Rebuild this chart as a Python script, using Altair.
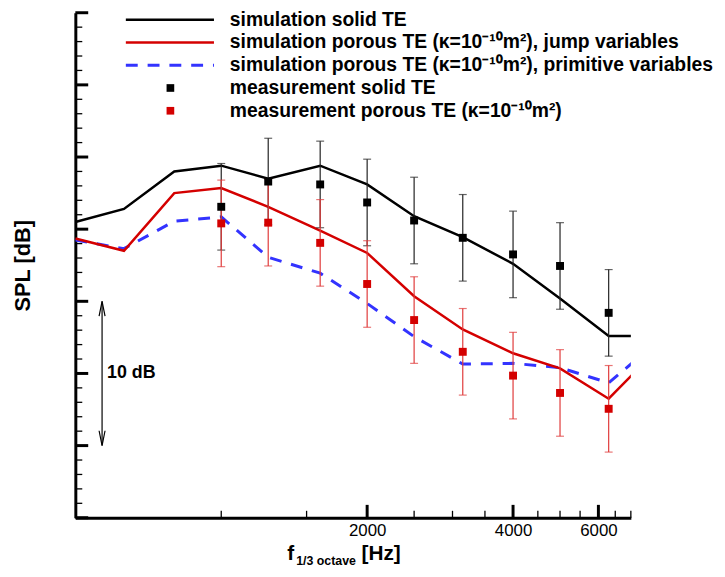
import altair as alt
import pandas as pd

# ---------------- data ----------------
freq_sim = [500, 630, 800, 1000, 1250, 1600, 2000, 2500, 3150, 4000, 5000, 6300, 8000]
sim_solid = [20.5, 21.4, 24.0, 24.4, 23.5, 24.4, 23.1, 20.9, 19.45, 17.6, 15.2, 12.6, 12.6]
sim_jump = [19.35, 18.5, 22.5, 22.85, 21.55, 19.9, 18.35, 15.35, 13.05, 11.4, 10.35, 8.25, 11.8]
sim_prim = [19.25, 18.65, 20.55, 20.85, 18.05, 16.95, 14.85, 12.55, 10.65, 10.7, 10.4, 9.35, 12.3]

freq_meas = [1000, 1250, 1600, 2000, 2500, 3150, 4000, 5000, 6300]
meas_solid = [21.55, 23.3, 23.1, 21.85, 20.6, 19.4, 18.25, 17.45, 14.2]
meas_porous = [20.4, 20.45, 19.05, 16.2, 13.7, 11.5, 9.85, 8.65, 7.55]
meas_err = [3.0] * 9

x_major = [2000, 4000, 6000]
x_minor = [1000, 1500, 2500, 3000, 3500, 4500, 5000, 5500, 6500, 7000]
y_major = [0, 5, 10, 15, 20, 25, 30, 35]
y_minor = [v for v in range(0, 36) if v % 5 != 0]

legend_labels = [
    "simulation solid TE",
    "simulation porous TE (\u03ba=10\u207b\u00b9\u2070m\u00b2), jump variables",
    "simulation porous TE (\u03ba=10\u207b\u00b9\u2070m\u00b2), primitive variables",
    "measurement solid TE",
    "measurement porous TE (\u03ba=10\u207b\u00b9\u2070m\u00b2)",
]

arrow_lo, arrow_hi = [5], [15]

# ---------------- styling ----------------
W, H = 561, 510
FONT = "Liberation Sans"
BLACK, RED, BLUE = "#000000", "#d40000", "#3333ff"
RED_BAR = "#e03a3a"

xs = alt.Scale(type="log", domain=[500, 7000], nice=False)
ys = alt.Scale(domain=[0, 35], nice=False, zero=False)

x_axis = alt.Axis(values=x_major, format="d", labelFont=FONT, labelFontSize=17,
                  labelColor="black", ticks=False, tickSize=0, labelPadding=5,
                  domainWidth=3, domainColor="black", grid=False, title=None,
                  labelFlush=False)
y_axis = alt.Axis(labels=False, ticks=False, tickSize=0, domainWidth=3,
                  domainColor="black", grid=False, title="SPL [dB]",
                  titleFont=FONT, titleFontSize=22, titleFontWeight="bold",
                  titleColor="black", titlePadding=41)

X = alt.X("f:Q", scale=xs, axis=x_axis)
Y = alt.Y("spl:Q", scale=ys, axis=y_axis)


def line_layer(vals, color, width, dash=None):
    df = pd.DataFrame({"f": freq_sim, "spl": vals})
    kw = dict(color=color, strokeWidth=width, clip=True)
    if dash:
        kw["strokeDash"] = dash
    return alt.Chart(df).mark_line(**kw).encode(x=X, y=Y)


def meas_layers(vals, color, bar_color):
    df = pd.DataFrame({"f": freq_meas, "spl": vals,
                       "lo": [v - e for v, e in zip(vals, meas_err)],
                       "hi": [v + e for v, e in zip(vals, meas_err)]})
    base = alt.Chart(df)
    bars = base.mark_rule(color=bar_color, strokeWidth=1.2).encode(
        x=X, y=alt.Y("lo:Q", scale=ys, axis=y_axis), y2="hi:Q")
    cap_lo = base.mark_tick(orient="horizontal", size=8, thickness=1.2, color=bar_color).encode(
        x=X, y=alt.Y("lo:Q", scale=ys, axis=y_axis))
    cap_hi = base.mark_tick(orient="horizontal", size=8, thickness=1.2, color=bar_color).encode(
        x=X, y=alt.Y("hi:Q", scale=ys, axis=y_axis))
    pts = base.mark_square(size=64, color=color, opacity=1).encode(x=X, y=Y)
    return [bars, cap_lo, cap_hi], pts


layers = []

# inward axis ticks
xmaj = pd.DataFrame({"f": x_major})
xmin = pd.DataFrame({"f": x_minor})
ymaj = pd.DataFrame({"spl": y_major})
ymin = pd.DataFrame({"spl": y_minor})
layers.append(alt.Chart(xmaj).mark_rule(color="black", strokeWidth=3).encode(
    x=X, y=alt.value(H), y2=alt.value(H - 13)))
layers.append(alt.Chart(xmin).mark_rule(color="black", strokeWidth=1.3).encode(
    x=X, y=alt.value(H), y2=alt.value(H - 7)))
layers.append(alt.Chart(ymaj).mark_rule(color="black", strokeWidth=3).encode(
    y=Y, x=alt.value(0), x2=alt.value(13)))
layers.append(alt.Chart(ymin).mark_rule(color="black", strokeWidth=1.3).encode(
    y=Y, x=alt.value(0), x2=alt.value(7)))

# simulation lines
layers.append(line_layer(sim_prim, BLUE, 3, [12, 10]))
layers.append(line_layer(sim_solid, BLACK, 2.5))
layers.append(line_layer(sim_jump, RED, 2.5))

# measurements
bars_s, pts_s = meas_layers(meas_solid, BLACK, "#222222")
bars_p, pts_p = meas_layers(meas_porous, RED, RED_BAR)
layers += bars_s + bars_p + [pts_s, pts_p]

# 10 dB scale arrow
arr = pd.DataFrame({"spl": arrow_lo, "spl2": arrow_hi})
layers.append(alt.Chart(arr).mark_rule(color="black", strokeWidth=1.2).encode(
    x=alt.value(27), y=Y, y2="spl2:Q"))
layers.append(alt.Chart(pd.DataFrame({"spl": arrow_hi})).mark_point(
    shape="M-0.4,2L0,0L0.4,2", size=225, filled=False, stroke="black", strokeWidth=1.2, opacity=1
).encode(x=alt.value(27), y=Y))
layers.append(alt.Chart(pd.DataFrame({"spl": arrow_lo})).mark_point(
    shape="M-0.4,-2L0,0L0.4,-2", size=225, filled=False, stroke="black", strokeWidth=1.2, opacity=1
).encode(x=alt.value(27), y=Y))
layers.append(alt.Chart(pd.DataFrame({"spl": [10]})).mark_text(
    text="10 dB", align="left", baseline="middle", font=FONT, fontSize=18,
    fontWeight="bold", color="black").encode(x=alt.value(32), y=Y))

# legend (hand drawn inside the plot area, as in the reference)
one = pd.DataFrame({"k": [0]})
row_y = [7, 30, 53, 76, 99]
sym = [("line", BLACK, None), ("line", RED, None), ("line", BLUE, [12, 10]),
       ("sq", BLACK, None), ("sq", RED, None)]
for (kind, col, dash), ry, lab in zip(sym, row_y, legend_labels):
    if kind == "line":
        kw = dict(color=col, strokeWidth=3 if dash else 2.5)
        if dash:
            kw["strokeDash"] = dash
        layers.append(alt.Chart(one).mark_rule(**kw).encode(
            x=alt.value(51), x2=alt.value(140), y=alt.value(ry)))
    else:
        layers.append(alt.Chart(one).mark_square(size=60, color=col, opacity=1).encode(
            x=alt.value(96), y=alt.value(ry)))
    layers.append(alt.Chart(one).mark_text(
        text=lab, align="left", baseline="middle", font=FONT, fontSize=19.5,
        fontWeight="bold", color="black").encode(x=alt.value(156), y=alt.value(ry)))

# x-axis title with subscript
layers.append(alt.Chart(one).mark_text(text="f", align="left", baseline="alphabetic",
    font=FONT, fontSize=21, fontWeight="bold", color="black").encode(
    x=alt.value(214), y=alt.value(553)))
layers.append(alt.Chart(one).mark_text(text="1/3 octave", align="left", baseline="alphabetic",
    font=FONT, fontSize=12.5, fontWeight="bold", color="black").encode(
    x=alt.value(223), y=alt.value(558)))
layers.append(alt.Chart(one).mark_text(text="[Hz]", align="left", baseline="alphabetic",
    font=FONT, fontSize=21, fontWeight="bold", color="black").encode(
    x=alt.value(289), y=alt.value(553)))

chart = alt.layer(*layers).properties(
    width=W, height=H,
    autosize=alt.AutoSizeParams(type="none"),
    padding={"left": 68, "top": 2, "right": 87, "bottom": 50},
).configure_view(stroke=None).configure_axis(grid=False)

chart.save("out.html", embed_options={"renderer": "svg", "actions": False})
